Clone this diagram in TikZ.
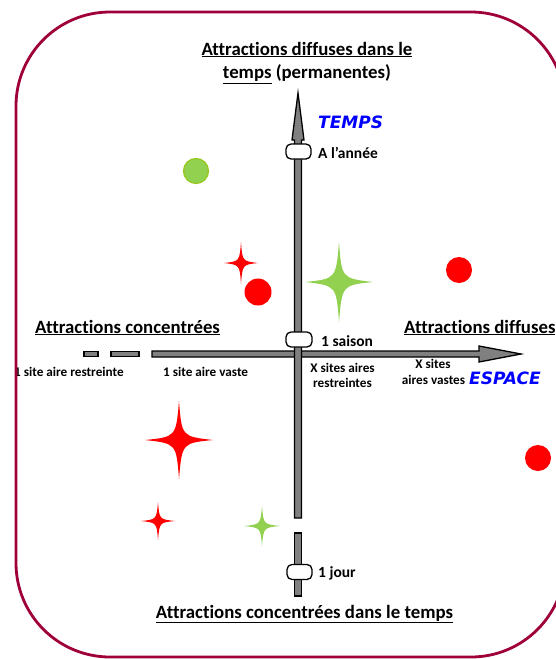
\documentclass[tikz,border=0pt]{standalone}
\usepackage{fontspec}
\setmainfont{Carlito}[Ligatures={ResetAll}, RawFeature={-liga}]
\newfontfamily\comicfont{DejaVu Sans}
\definecolor{framecol}{RGB}{160,0,58}
\definecolor{starred}{RGB}{255,0,0}
\definecolor{stargreen}{RGB}{146,208,80}
\definecolor{circgreenedge}{RGB}{150,200,30}
\definecolor{axisgray}{RGB}{128,128,128}
\definecolor{bluelab}{RGB}{0,0,255}
\tikzset{
  frame/.style={draw=framecol, line width=2.8pt, rounded corners=94pt},
  axisshape/.style={fill=axisgray, draw=black, line width=1.3pt, line join=miter},
  pill/.style={draw=black, fill=white, line width=1.3pt, rounded corners=5pt},
  title/.style={font=\fontsize{18.8}{21}\selectfont\bfseries, inner sep=0pt},
  pilllab/.style={font=\fontsize{15.5}{17}\selectfont\bfseries, inner sep=0pt, anchor=base west},
  sitelab/.style={font=\fontsize{13.2}{15}\selectfont\bfseries, inner sep=0pt},
  bluelabel/.style={font=\comicfont\fontsize{17}{19}\selectfont\bfseries\itshape, text=bluelab, inner sep=0pt, anchor=base west},
  redfill/.style={fill=starred},
  greenfill/.style={fill=stargreen},
}
\newcommand{\fourstar}[5]{% x y halfwidth halfheight style
  \fill[#5] (#1+#3,#2) .. controls (#1+0.09*#3,#2+0.08*#4) .. (#1,#2+#4)
    .. controls (#1-0.08*#3,#2+0.09*#4) .. (#1-#3,#2)
    .. controls (#1-0.09*#3,#2-0.08*#4) .. (#1,#2-#4)
    .. controls (#1+0.08*#3,#2-0.09*#4) .. cycle;}
\begin{document}
\begin{tikzpicture}[x=1pt,y=-1pt]
\useasboundingbox (0,0) rectangle (555,659);
% horizontal axis (space)
\coordinate (htip) at (521,354);
\draw[axisshape] (152,351) -- (479,351) -- (479,346) -- (htip) -- (479,362) -- (479,357) -- (152,357) -- cycle;
\draw[axisshape] (84,351.5) rectangle (98,356.5);
\draw[axisshape] (111,351.5) rectangle (139,356.5);
% vertical axis (time)
\coordinate (vtip) at (298,93);
\draw[axisshape] (vtip) -- (304,140) -- (301.5,140) -- (301.5,518) -- (294.5,518) -- (294.5,140) -- (292,140) -- cycle;
\draw[axisshape] (294.5,533) rectangle (301.5,596);
% pills
\draw[pill] (286,144) rectangle (311,159);
\draw[pill] (286,332) rectangle (312,347);
\draw[pill] (287,564.5) rectangle (312,579.5);
% circles
\draw[fill=stargreen, draw=circgreenedge, line width=1.2pt] (196,171) circle (12.5);
\fill[starred] (258,292) circle (13.5);
\fill[starred] (459,270) circle (13);
\fill[starred] (538,458) circle (13);
% stars
\fourstar{241}{263}{17}{21}{redfill}
\fourstar{339}{282}{34}{40}{greenfill}
\fourstar{179}{440}{34}{39}{redfill}
\fourstar{158}{521}{17}{19}{redfill}
\fourstar{262}{526}{18}{20}{greenfill}
% texts
\node[title, anchor=base] (t1) at (307,55) {\underline{Attractions diffuses dans le}};
\node[title, anchor=base] (t2) at (307,78.5) {\underline{temps} (permanentes)};
\node[bluelabel] (temps) at (318,128) {TEMPS};
\node[pilllab] (annee) at (318,158) {A l'année};
\node[title, anchor=base west] (conc) at (35,333) {\underline{Attractions concentrées}};
\node[title, anchor=base west] (diff) at (404,333) {\underline{Attractions diffuses}};
\node[pilllab] (saison) at (321,346) {1 saison};
\node[sitelab, anchor=base west] (restr) at (14,376) {1 site aire restreinte};
\node[sitelab, anchor=base west] (vaste) at (163,376) {1 site aire vaste};
\node[sitelab, anchor=base] (xs1) at (342.5,372) {X sites aires};
\node[sitelab, anchor=base] (xs2) at (342.5,387.5) {restreintes};
\node[sitelab, anchor=base] (xv1) at (433,368.5) {X sites};
\node[sitelab, anchor=base] (xv2) at (433.5,384) {aires vastes};
\node[bluelabel] (espace) at (469,384) {ESPACE};
\node[pilllab] (jour) at (318,577) {1 jour};
\node[title, anchor=base] (t3) at (304.5,618) {\underline{Attractions concentrées dans le temps}};
% frame
\draw[frame] (16,12) rectangle (565,657);
\end{tikzpicture}
\end{document}
